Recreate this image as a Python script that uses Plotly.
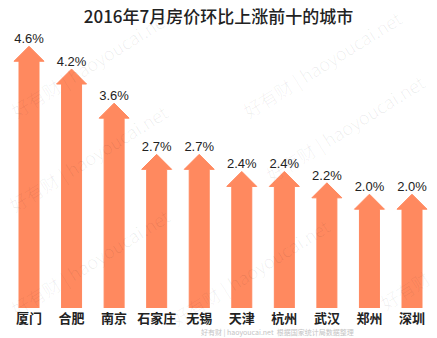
import plotly.graph_objects as go

cities = ["厦门", "合肥", "南京", "石家庄", "无锡", "天津", "杭州", "武汉", "郑州", "深圳"]
values = [4.6, 4.2, 3.6, 2.7, 2.7, 2.4, 2.4, 2.2, 2.0, 2.0]
labels = ["4.6%", "4.2%", "3.6%", "2.7%", "2.7%", "2.4%", "2.4%", "2.2%", "2.0%", "2.0%"]

ORANGE = "#FF895F"
W, H = 437, 338
T, B = 29, 30
PX_PER_X = 42.56
PX_PER_Y = 56.9
Y_TOP = (H - T - B) / PX_PER_Y
SHAFT = 10 / PX_PER_X
HEAD = 15 / PX_PER_X
HEAD_H = 15 / PX_PER_Y

fig = go.Figure()
for i, v in enumerate(values):
    hb = v - HEAD_H
    xs = [i - SHAFT, i - SHAFT, i - HEAD, i, i + HEAD, i + SHAFT, i + SHAFT, i - SHAFT]
    ys = [0, hb, hb, v, hb, hb, 0, 0]
    fig.add_trace(go.Scatter(x=xs, y=ys, mode="lines", fill="toself",
                             fillcolor=ORANGE, line=dict(color=ORANGE, width=1),
                             hoverinfo="skip", showlegend=False))

fig.add_trace(go.Scatter(x=list(range(len(values))), y=values, mode="text",
                         text=labels, textposition="top center",
                         textfont=dict(size=13, color="#222222", family="Liberation Sans, Arial"),
                         showlegend=False, cliponaxis=False))

PH = H - T - B
# watermark centres (pixels)
wm = [(90, 64), (88, 158), (90, 262), (322, 64), (345, 128), (250, 272)]
annotations = []
for px, py in wm:
    annotations.append(dict(text="好有财 | haoyoucai.net", x=px / W, y=(H - B - py) / PH,
                            xref="paper", yref="paper", showarrow=False, textangle=-32,
                            xanchor="center", yanchor="middle",
                            font=dict(size=18, color="rgba(0,0,0,0.07)",
                                      family="Noto Sans CJK SC", weight=300)))
annotations.append(dict(text="好有财", x=405 / W, y=(H - B - 290) / PH,
                        xref="paper", yref="paper", showarrow=False, textangle=-32,
                        xanchor="center", yanchor="middle",
                        font=dict(size=18, color="rgba(0,0,0,0.07)",
                                  family="Noto Sans CJK SC", weight=300)))
annotations.append(dict(text="好有财 | haoyoucai.net  根据国家统计局数据整理",
                        x=200 / W, y=(H - B - 338) / PH, xref="paper", yref="paper",
                        xanchor="left", yanchor="bottom", showarrow=False, borderpad=0,
                        font=dict(size=7, color="#c4c4c4", family="Noto Sans CJK SC")))

fig.update_layout(
    width=W, height=H, margin=dict(l=0, r=0, t=T, b=B),
    paper_bgcolor="white", plot_bgcolor="white",
    title=dict(text="2016年7月房价环比上涨前十的城市", x=0.5, xanchor="center",
               y=1 - 17 / H, yanchor="middle",
               font=dict(size=17, color="#222222", family="Noto Sans CJK SC", weight=500)),
    xaxis=dict(range=[-29 / PX_PER_X, 9 + 25 / PX_PER_X], tickmode="array",
               tickvals=list(range(len(cities))), ticktext=["<b>%s</b>" % c for c in cities],
               tickfont=dict(size=13, color="#222222", family="Noto Sans CJK SC"),
               showgrid=False, zeroline=False, showline=False, ticks="",
               ticklabelstandoff=1),
    yaxis=dict(range=[0, Y_TOP], visible=False),
    annotations=annotations,
)

fig.write_html("out.html")
